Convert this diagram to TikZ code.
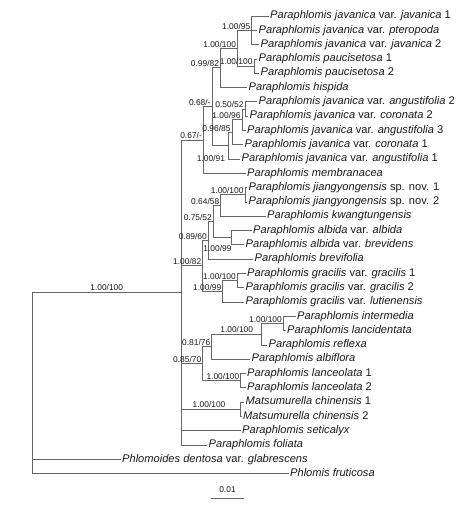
\documentclass[tikz,border=0pt]{standalone}
\usepackage{fontspec}
\setmainfont{Liberation Sans}
\definecolor{brcol}{HTML}{666666}
\definecolor{txtcol}{HTML}{1A1A1A}
\tikzset{
  br/.style={draw=brcol, line width=0.75pt},
  tax/.style={anchor=west, inner xsep=1.5pt, inner ysep=0pt, text height=8pt, text depth=2.5pt, font=\fontsize{11.1}{12}\selectfont, text=txtcol},
  supp/.style={anchor=south east, inner sep=0.8pt, font=\fontsize{8.4}{9}\selectfont, text=txtcol},
  suppc/.style={anchor=center, inner sep=0.8pt, font=\fontsize{8.4}{9}\selectfont, text=txtcol},
}
\begin{document}
\begin{tikzpicture}[x=1pt,y=-1pt]
\fill[white] (0,0) rectangle (458,508);
\useasboundingbox (0,0) rectangle (458,508);
% leaves
\node[tax] (L1)  at (268.5,16.0)  {\textit{Paraphlomis javanica} var. \textit{javanica} 1};
\node[tax] (L2)  at (257.0,30.3)  {\textit{Paraphlomis javanica} var. \textit{pteropoda}};
\node[tax] (L3)  at (259.0,44.6)  {\textit{Paraphlomis javanica} var. \textit{javanica} 2};
\node[tax] (L4)  at (257.0,58.9)  {\textit{Paraphlomis paucisetosa} 1};
\node[tax] (L5)  at (259.0,73.2)  {\textit{Paraphlomis paucisetosa} 2};
\node[tax] (L6)  at (247.0,87.5)  {\textit{Paraphlomis hispida}};
\node[tax] (L7)  at (257.0,101.8) {\textit{Paraphlomis javanica} var. \textit{angustifolia} 2};
\node[tax] (L8)  at (248.0,116.1) {\textit{Paraphlomis javanica} var. \textit{coronata} 2};
\node[tax] (L9)  at (245.5,130.4) {\textit{Paraphlomis javanica} var. \textit{angustifolia} 3};
\node[tax] (L10) at (243.0,144.7) {\textit{Paraphlomis javanica} var. \textit{coronata} 1};
\node[tax] (L11) at (240.0,159.0) {\textit{Paraphlomis javanica} var. \textit{angustifolia} 1};
\node[tax] (L12) at (245.5,173.3) {\textit{Paraphlomis membranacea}};
\node[tax] (L13) at (247.0,187.6) {\textit{Paraphlomis jiangyongensis} sp. nov. 1};
\node[tax] (L14) at (247.0,201.9) {\textit{Paraphlomis jiangyongensis} sp. nov. 2};
\node[tax] (L15) at (265.5,216.2) {\textit{Paraphlomis kwangtungensis}};
\node[tax] (L16) at (251.5,230.5) {\textit{Paraphlomis albida} var. \textit{albida}};
\node[tax] (L17) at (244.0,244.8) {\textit{Paraphlomis albida} var. \textit{brevidens}};
\node[tax] (L18) at (253.0,259.1) {\textit{Paraphlomis brevifolia}};
\node[tax] (L19) at (245.5,273.4) {\textit{Paraphlomis gracilis} var. \textit{gracilis} 1};
\node[tax] (L20) at (244.0,287.7) {\textit{Paraphlomis gracilis} var. \textit{gracilis} 2};
\node[tax] (L21) at (244.0,302.0) {\textit{Paraphlomis gracilis} var. \textit{lutienensis}};
\node[tax] (L22) at (295.5,316.3) {\textit{Paraphlomis intermedia}};
\node[tax] (L23) at (285.5,330.6) {\textit{Paraphlomis lancidentata}};
\node[tax] (L24) at (267.0,344.9) {\textit{Paraphlomis reflexa}};
\node[tax] (L25) at (250.0,359.2) {\textit{Paraphlomis albiflora}};
\node[tax] (L26) at (245.5,373.5) {\textit{Paraphlomis lanceolata} 1};
\node[tax] (L27) at (245.5,387.8) {\textit{Paraphlomis lanceolata} 2};
\node[tax] (L28) at (244.0,402.1) {\textit{Matsumurella chinensis} 1};
\node[tax] (L29) at (241.5,416.4) {\textit{Matsumurella chinensis} 2};
\node[tax] (L30) at (240.5,430.7) {\textit{Paraphlomis seticalyx}};
\node[tax] (L31) at (207.0,445.0) {\textit{Paraphlomis foliata}};
\node[tax] (L32) at (120.5,459.3) {\textit{Phlomoides dentosa} var. \textit{glabrescens}};
\node[tax] (L33) at (288.5,473.6) {\textit{Phlomis fruticosa}};
% internal nodes
\coordinate (nJav)   at (251.7,30.3);
\coordinate (nPau)   at (254.0,66.05);
\coordinate (nA)     at (237.5,48.2);
\coordinate (n99)    at (220.5,67.85);
\coordinate (n5052)  at (245.0,108.95);
\coordinate (n10096) at (242.0,119.7);
\coordinate (n9685)  at (232.0,132.2);
\coordinate (n10091) at (228.0,145.6);
\coordinate (n068)   at (212.0,106.7);
\coordinate (n067)   at (203.3,140.0);
\coordinate (nJi)    at (245.0,194.75);
\coordinate (n6458)  at (220.7,205.5);
\coordinate (nAlb)   at (231.5,237.65);
\coordinate (n7552)  at (213.3,221.6);
\coordinate (n8960)  at (208.3,240.3);
\coordinate (nGr)    at (237.3,280.55);
\coordinate (nGr99)  at (222.7,291.3);
\coordinate (n10082) at (202.7,265.8);
\coordinate (nInt)   at (283.3,323.45);
\coordinate (nRef)   at (261.0,334.2);
\coordinate (n8176)  at (211.7,346.7);
\coordinate (nLan)   at (240.7,380.65);
\coordinate (n8570)  at (202.7,363.7);
\coordinate (nMat)   at (240.7,409.25);
\coordinate (nIn)    at (181.7,292.5);
\coordinate (nRoot)  at (32.3,383.0);
% branches
\draw[br] (nJav) |- (L1.west) (nJav) |- (L2.west) (nJav) |- (L3.west);
\draw[br] (nPau) |- (L4.west) (nPau) |- (L5.west);
\draw[br] (nA) |- (nJav) (nA) |- (nPau);
\draw[br] (n99) |- (nA) (n99) |- (L6.west);
\draw[br] (n5052) |- (L7.west) (n5052) |- (L8.west);
\draw[br] (n10096) |- (n5052) (n10096) |- (L9.west);
\draw[br] (n9685) |- (n10096) (n9685) |- (L10.west);
\draw[br] (n10091) |- (n9685) (n10091) |- (L11.west);
\draw[br] (n068) |- (n99) (n068) |- (n10091);
\draw[br] (n067) |- (n068) (n067) |- (L12.west);
\draw[br] (nJi) |- (L13.west) (nJi) |- (L14.west);
\draw[br] (n6458) |- (nJi) (n6458) |- (L15.west);
\draw[br] (nAlb) |- (L16.west) (nAlb) |- (L17.west);
\draw[br] (n7552) |- (n6458) (n7552) |- (nAlb);
\draw[br] (n8960) |- (n7552) (n8960) |- (L18.west);
\draw[br] (nGr) |- (L19.west) (nGr) |- (L20.west);
\draw[br] (nGr99) |- (nGr) (nGr99) |- (L21.west);
\draw[br] (n10082) |- (n8960) (n10082) |- (nGr99);
\draw[br] (nInt) |- (L22.west) (nInt) |- (L23.west);
\draw[br] (nRef) |- (nInt) (nRef) |- (L24.west);
\draw[br] (n8176) |- (nRef) (n8176) |- (L25.west);
\draw[br] (nLan) |- (L26.west) (nLan) |- (L27.west);
\draw[br] (n8570) |- (n8176) (n8570) |- (nLan);
\draw[br] (nMat) |- (L28.west) (nMat) |- (L29.west);
\draw[br] (nIn) |- (n067) (nIn) |- (n10082) (nIn) |- (n8570) (nIn) |- (nMat) (nIn) |- (L30.west) (nIn) |- (L31.west);
\draw[br] (nRoot) |- (nIn) (nRoot) |- (L32.west) (nRoot) |- (L33.west);
% support values
\node[supp] (s1) at ([xshift=-0.5pt]nJav) {1.00/95};
\node[supp] (s2) at ([xshift=-0.5pt]nA) {1.00/100};
\node[supp] (s3) at ([xshift=-0.5pt]nPau) {1.00/100};
\node[supp] (s4) at ([xshift=-0.5pt]n99) {0.99/82};
\node[supp] (s5) at ([xshift=-0.5pt]n5052) {0.50/52};
\node[supp] (s6) at ([xshift=-0.5pt]n10096) {1.00/96};
\node[supp] (s7) at ([xshift=-0.5pt]n9685) {0.96/85};
\node[suppc] (s8) at (211,158) {1.00/91};
\node[supp] (s9) at ([xshift=-0.5pt]n068) {0.68/-};
\node[supp] (s10) at ([xshift=-0.5pt]n067) {0.67/-};
\node[supp] (s11) at ([xshift=-0.5pt]nJi) {1.00/100};
\node[supp] (s12) at ([xshift=-0.5pt]n6458) {0.64/58};
\node[suppc] (s13) at (217.5,248) {1.00/99};
\node[supp] (s14) at ([xshift=-0.5pt]n7552) {0.75/52};
\node[supp] (s15) at ([xshift=-0.5pt]n8960) {0.89/60};
\node[supp] (s16) at ([xshift=-0.5pt]nGr) {1.00/100};
\node[supp] (s17) at ([xshift=-0.5pt]nGr99) {1.00/99};
\node[supp] (s18) at ([xshift=-0.5pt]n10082) {1.00/82};
\node[supp] (s19) at ([xshift=-0.5pt]nInt) {1.00/100};
\node[suppc] (s20) at (236.7,329.5) {1.00/100};
\node[supp] (s21) at ([xshift=-0.5pt]n8176) {0.81/76};
\node[supp] (s22) at ([xshift=-0.5pt]nLan) {1.00/100};
\node[supp] (s23) at ([xshift=-0.5pt]n8570) {0.85/70};
\node[suppc] (s24) at (209,404.5) {1.00/100};
\node[suppc] (s25) at (106.7,287.5) {1.00/100};
% scale bar
\coordinate (sbA) at (211,498);
\coordinate (sbB) at (244,498);
\draw[br] (sbA) -- (sbB);
\node[suppc] (sbl) at (227.5,490) {0.01};
\end{tikzpicture}
\end{document}
